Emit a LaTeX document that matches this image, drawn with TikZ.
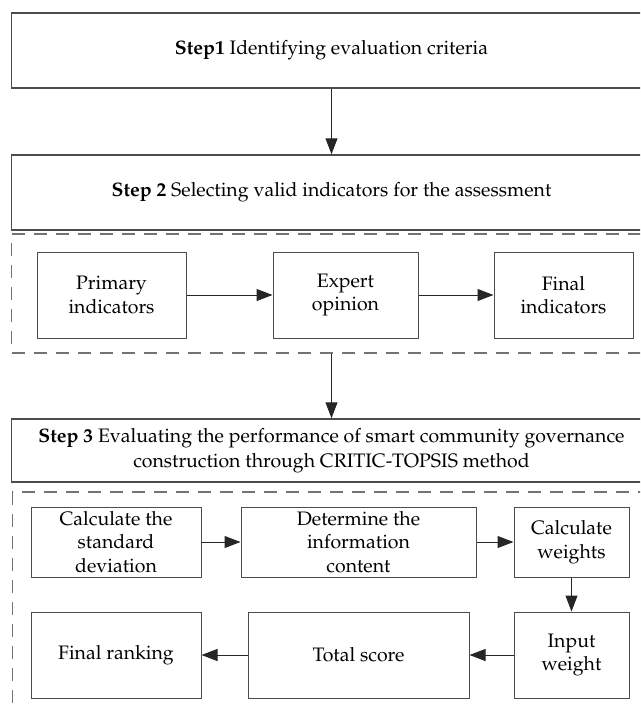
\documentclass[tikz,border=0pt]{standalone}
\usepackage[T1]{fontenc}
\usepackage{mathpazo}
\usepackage{tikz}
\usetikzlibrary{arrows.meta,positioning}

\begin{document}
\begin{tikzpicture}[x=1pt, y=-1pt,
    font=\fontsize{19.5}{23.5}\selectfont,
    stepbox/.style={draw=black!70, line width=1.5pt, align=center,
                    minimum width=640pt, inner sep=0pt},
    group/.style={draw=black!55, line width=1.2pt, dash pattern=on 13pt off 9pt,
                  minimum width=640pt, inner sep=0pt},
    box/.style={draw=black!70, line width=1pt, align=center, inner sep=0pt},
    flow/.style={draw=black!85, line width=1pt, -{Triangle[length=16pt,width=12pt]}}]

  \useasboundingbox (0,0) rectangle (640,712);
  \clip (0,0) rectangle (640,712);

  \node[stepbox, minimum height=75pt] (s1) at (331.5,50.5)
    {\textbf{Step1} Identifying evaluation criteria};
  \node[stepbox, minimum height=75pt] (s2) at (331.5,192.5)
    {\textbf{Step 2} Selecting valid indicators for the assessment};
  \node[group, minimum height=119pt] (g1) at (331.5,293.5) {};

  \node[box, minimum width=149pt, minimum height=86pt] (p1) at (111.5,295)
    {Primary\\indicators};
  \node[box, minimum width=145pt, minimum height=86pt] (p2) at (345.5,295)
    {Expert\\opinion};
  \node[box, minimum width=139pt, minimum height=86pt] (p3) at (563.5,295)
    {Final\\indicators};

  \node[stepbox, minimum height=63pt] (s3) at (331.5,450.5)
    {\textbf{Step 3} Evaluating the performance of smart community governance\\[1.5pt]
     construction through CRITIC-TOPSIS method};
  \node[group, minimum height=260pt] (g2) at (332.5,622) {};

  \node[box, minimum width=170pt, minimum height=70pt] (c1) at (116,542)
    {Calculate the\\standard\\deviation};
  \node[box, minimum width=235pt, minimum height=70pt] (c2) at (358.5,542)
    {Determine the\\information\\content};
  \node[box, minimum width=115pt, minimum height=70pt] (c3) at (571.5,542)
    {Calculate\\weights};
  \node[box, minimum width=115pt, minimum height=86pt] (c4) at (571.5,655)
    {Input\\weight};
  \node[box, minimum width=221pt, minimum height=86pt] (c5) at (358.5,655)
    {Total score};
  \node[box, minimum width=170pt, minimum height=86pt] (c6) at (116,655)
    {Final ranking};

  \foreach \i/\j in {p1/p2, p2/p3, c1/c2, c2/c3, c4/c5, c5/c6}
    \draw[flow] (\i) -- (\j);
  \foreach \i/\j in {s1/s2, g1/s3, c3/c4}
    \draw[flow] (\i.south) -- (\j.north);
\end{tikzpicture}
\end{document}
